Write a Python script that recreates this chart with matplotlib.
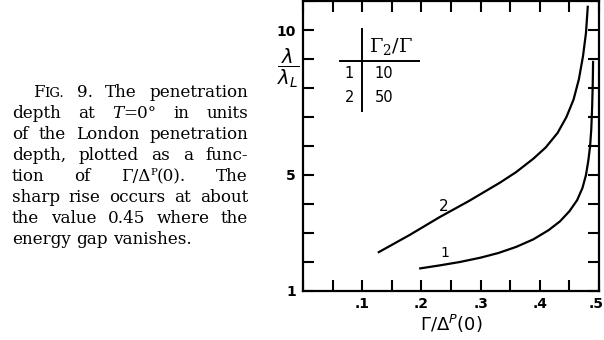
import matplotlib
matplotlib.use("Agg")
import matplotlib.pyplot as plt
import matplotlib.transforms as mtransforms
from matplotlib.ticker import MultipleLocator, FixedLocator

# ============== Data ================
# curve 1: Gamma_2/Gamma = 10
x1 = [0.198, 0.23, 0.265, 0.30, 0.33, 0.36, 0.389, 0.415, 0.434, 0.45, 0.463,
      0.472, 0.478, 0.482, 0.485, 0.487, 0.4885, 0.4895, 0.490]
y1 = [1.78, 1.88, 2.0, 2.15, 2.31, 2.52, 2.78, 3.1, 3.4, 3.75, 4.13,
      4.55, 5.0, 5.5, 6.0, 6.6, 7.4, 8.2, 8.9]
# curve 2: Gamma_2/Gamma = 50
x2 = [0.128, 0.18, 0.231, 0.28, 0.333, 0.36, 0.389, 0.41, 0.43, 0.445, 0.457,
      0.466, 0.473, 0.478, 0.481]
y2 = [2.34, 2.93, 3.55, 4.1, 4.74, 5.1, 5.56, 5.95, 6.45, 7.0, 7.6,
      8.3, 9.1, 9.9, 10.8]

curve_ids = ["1", "2"]
ratios = ["10", "50"]
xtick_vals = [0.1, 0.2, 0.3, 0.4, 0.5]
xtick_labels = [".1", ".2", ".3", ".4", ".5"]
ytick_vals = [1, 5, 10]

W, H = 604, 340
fig = plt.figure(figsize=(W / 100, H / 100), dpi=100)
renderer = fig.canvas.get_renderer()

# ============== Axes ================
ax = fig.add_axes([303 / W, 1 - 291 / H, 296 / W, 290 / H])
ax.set_xlim(0, 0.5)
ax.set_ylim(1, 11)
for sp in ax.spines.values():
    sp.set_linewidth(1.6)

ax.xaxis.set_major_locator(FixedLocator(xtick_vals))
ax.xaxis.set_minor_locator(MultipleLocator(0.05))
ax.yaxis.set_major_locator(FixedLocator(ytick_vals))
ax.yaxis.set_minor_locator(MultipleLocator(1))
ax.tick_params(which="both", direction="in", top=True, right=True,
               length=8, width=1.5, labelsize=10)
ax.set_xticklabels(xtick_labels, fontweight="bold")
ax.set_yticklabels([str(v) for v in ytick_vals], fontweight="bold")
ax.tick_params(axis="x", pad=4)
ax.tick_params(axis="y", pad=5)
# keep the ".5" inside the canvas
lab5 = ax.get_xticklabels()[-1]
lab5.set_transform(lab5.get_transform() +
                   mtransforms.ScaledTranslation(-3 / 100, 0, fig.dpi_scale_trans))

ax.plot(x1, y1, color="black", lw=1.6)
ax.plot(x2, y2, color="black", lw=1.6)
ax.text(0.24, 2.3, curve_ids[0], fontsize=10, ha="center", va="center")
ax.text(0.237, 3.9, curve_ids[1], fontsize=11, ha="center", va="center")

ax.set_xlabel(r"$\Gamma/\Delta^P(0)$", fontsize=13, labelpad=2)
fig.text(288 / W, 1 - 68 / H, r"$\dfrac{\lambda}{\lambda_L}$",
         fontsize=14, ha="center", va="center")

# small key table
ax.plot([0.1, 0.1], [7.2, 10.04], color="black", lw=1.4)
ax.plot([0.0625, 0.196], [8.94, 8.94], color="black", lw=1.4)
ax.text(0.148, 9.42, r"$\Gamma_2/\Gamma$", fontsize=14, ha="center", va="center",
        math_fontfamily="dejavuserif")
for i, (cid, r) in enumerate(zip(curve_ids, ratios)):
    yy = 8.49 - 0.82 * i
    ax.text(0.078, yy, cid, fontsize=10.5, ha="center", va="center")
    ax.text(0.137, yy, r, fontsize=10.5, ha="center", va="center")

# ============== Caption (justified) ================
FAM = "DejaVu Serif"


def seg_width(s, p):
    t = fig.text(0, 0, s, **p)
    w = t.get_window_extent(renderer).width
    t.remove()
    return w


# size the caption so the closing line spans its column
fs = 10 * 181 / seg_width("energy gap vanishes.", dict(family=FAM, fontsize=10))
serif = dict(family=FAM, fontsize=fs)
small = dict(family=FAM, fontsize=fs * 0.78)
ital = dict(family=FAM, fontsize=fs, style="italic")
sup = dict(family=FAM, fontsize=fs * 0.62)


def W_(s, p=serif, dy=0):
    return (s, p, dy)


caption = [
    (33, [[W_("F"), W_("IG.", small)], [W_("9.")], [W_("The")], [W_("penetration")]]),
    (12, [[W_("depth")], [W_("at")], [W_("T", ital), W_("=0°")], [W_("in")], [W_("units")]]),
    (12, [[W_("of")], [W_("the")], [W_("London")], [W_("penetration")]]),
    (12, [[W_("depth,")], [W_("plotted")], [W_("as")], [W_("a")], [W_("func-")]]),
    (12, [[W_("tion")], [W_("of")], [W_("Γ/Δ"), W_("P", sup, 6), W_("(0).")], [W_("The")]]),
    (12, [[W_("sharp")], [W_("rise")], [W_("occurs")], [W_("at")], [W_("about")]]),
    (12, [[W_("the")], [W_("value")], [W_("0.45")], [W_("where")], [W_("the")]]),
    (12, [[W_("energy")], [W_("gap")], [W_("vanishes.")]]),
]
right_edge = 248
baselines = [97, 118, 139, 160, 181, 202, 223, 244]
space = seg_width("a a", serif) - 2 * seg_width("a", serif)

for li, ((x0, words), yb) in enumerate(zip(caption, baselines)):
    widths = [sum(seg_width(s, p) for s, p, _ in w) for w in words]
    if li < len(caption) - 1:
        gap = max((right_edge - x0 - sum(widths)) / (len(words) - 1), 2)
    else:
        gap = space
    x = x0
    for w, wd in zip(words, widths):
        xs = x
        for s, p, dy in w:
            fig.text(xs / W, 1 - (yb - dy) / H, s, ha="left", va="baseline", **p)
            xs += seg_width(s, p)
        x += wd + gap

fig.savefig("out.png", dpi=100)
